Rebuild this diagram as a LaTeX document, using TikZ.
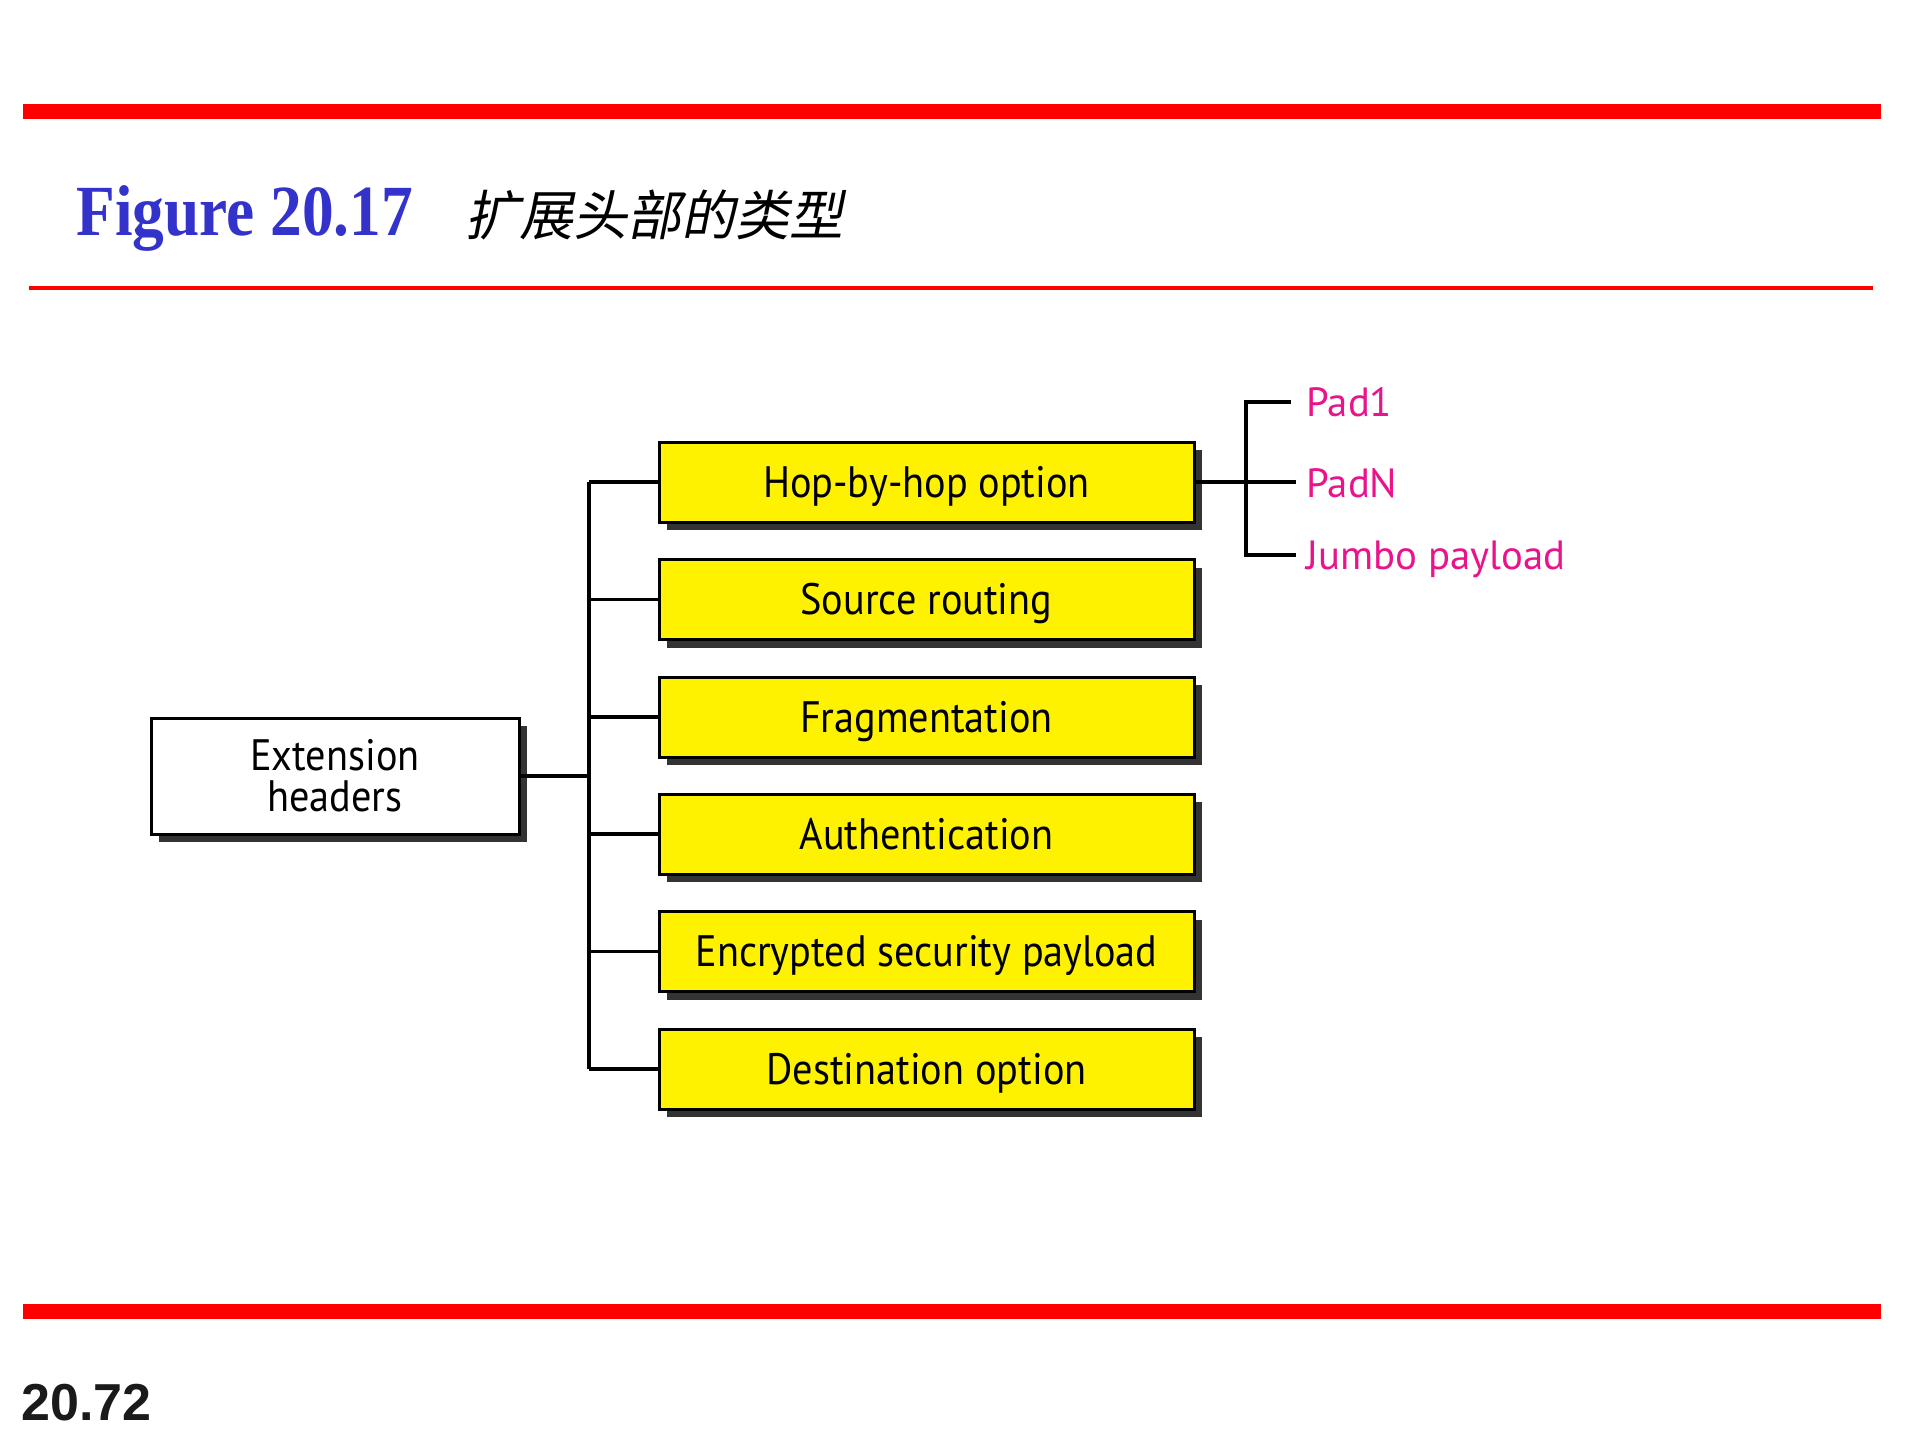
\documentclass[tikz,border=0pt]{standalone}
\usepackage{fontspec}
\newfontfamily\diafont{PT Sans}
\newfontfamily\titlefont{Liberation Serif}
\newfontfamily\numfont{Liberation Sans}
\newfontfamily\cjk[FakeSlant=0.2]{Noto Sans CJK SC}
\definecolor{barred}{RGB}{255,0,0}
\definecolor{titleblue}{RGB}{51,51,204}
\definecolor{padpink}{RGB}{233,20,140}
\definecolor{shadowgray}{RGB}{51,51,51}
\newcommand{\nar}[1]{\scalebox{0.915}[1]{#1}}
\begin{document}
\begin{tikzpicture}[x=0.5pt,y=-0.5pt,
  shadowed/.style={preaction={fill=shadowgray,transform canvas={shift={(4pt,-4pt)}}}},
  ybox/.style={draw=black,line width=1.5pt,fill=yellow,shadowed,minimum width=267.5pt,minimum height=40pt,inner sep=0pt,
    font=\diafont\fontsize{22pt}{26pt}\selectfont,text height=15.4pt,text depth=0pt},
  wbox/.style={draw=black,line width=1.5pt,fill=white,shadowed,minimum width=184pt,minimum height=58pt,inner sep=0pt,align=center,
    font=\diafont\fontsize{22pt}{20.5pt}\selectfont},
  conn/.style={line width=1.9pt,black},
  padtxt/.style={anchor=base west,inner sep=0pt,text=padpink,font=\diafont\fontsize{20.4pt}{24pt}\selectfont}]
\useasboundingbox[fill=white] (0,0) rectangle (1920,1440);
% bars
\fill[barred] (23,104) rectangle (1881,119);
\fill[barred] (29,286) rectangle (1873,289.5);
\fill[barred] (23,1304) rectangle (1881,1319);
% title
\node[anchor=base west,inner sep=0pt,text=titleblue,font=\titlefont\bfseries\fontsize{36pt}{40pt}\selectfont,xscale=0.88] (title) at (76,235) {Figure 20.17};
\node[anchor=base west,inner sep=0pt,font=\cjk\fontsize{27pt}{30pt}\selectfont] (ctitle) at (465,235) {扩展头部的类型};
\node[anchor=base west,inner sep=0pt,text={rgb,255:red,26;green,26;blue,26},font=\numfont\bfseries\fontsize{26pt}{30pt}\selectfont] (pagenum) at (21,1420) {20.72};
% boxes
\node[wbox] (ext) at (335,776) {\nar{Extension}\\\nar{headers}};
\node[ybox] (hop) at (926.5,482) {\nar{Hop-by-hop option}};
\node[ybox] (src) at (926.5,599.5) {\nar{Source routing}};
\node[ybox] (frag) at (926.5,717) {\nar{Fragmentation}};
\node[ybox] (auth) at (926.5,834) {\nar{Authentication}};
\node[ybox] (esp) at (926.5,951.5) {\nar{Encrypted security payload}};
\node[ybox] (dst) at (926.5,1069) {\nar{Destination option}};
% trunk
\coordinate (tTop) at (589,482);
\coordinate (tBot) at (589,1069);
\draw[conn] (tTop) -- (tBot);
\draw[conn] (ext.east) -- (ext.east -| tTop);
\foreach \n in {hop,src,frag,auth,esp,dst}{\draw[conn] (\n.west -| tTop) -- (\n.west);}
% right bracket
\coordinate (bTop) at (1246,402);
\coordinate (bBot) at (1246,555);
\coordinate (p1end) at (1291,402);
\coordinate (pNend) at (1296,482);
\coordinate (jEnd) at (1296,555);
\draw[conn,line join=miter] (p1end) -- (bTop) -- (bBot) -- (jEnd);
\draw[conn] (hop.east) -- (pNend);
\node[padtxt] (pad1) at (1306,416) {Pad1};
\node[padtxt] (padn) at (1306,497) {PadN};
\node[padtxt] (jumbo) at (1306,569) {Jumbo payload};
\end{tikzpicture}
\end{document}
